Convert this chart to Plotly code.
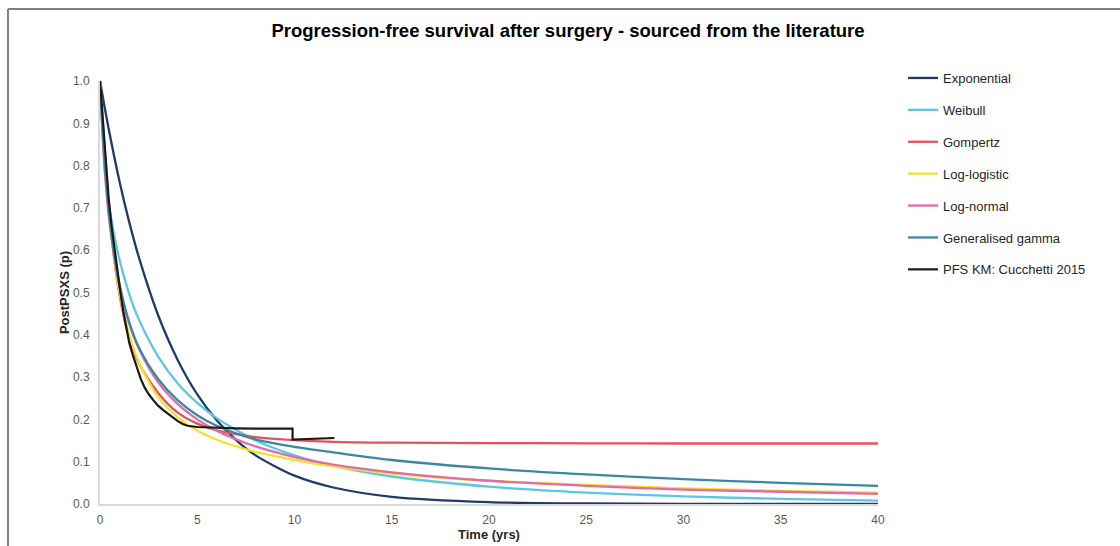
import plotly.graph_objects as go

# Fitted parametric survival curves: time (years) and survival probability
t_fit = [0, 0.25, 0.5, 1, 1.5, 2, 3, 4, 5, 6, 7, 8, 10, 12, 15, 20, 25, 30, 35, 40]

exponential = [1.0, 0.935, 0.874, 0.763, 0.667, 0.583, 0.445, 0.340, 0.259, 0.198, 0.151,
               0.115, 0.067, 0.039, 0.017, 0.0045, 0.0012, 0.0003, 0.0001, 0.0]
weibull = [1.0, 0.787, 0.696, 0.578, 0.497, 0.436, 0.348, 0.285, 0.239, 0.203, 0.175,
           0.150, 0.115, 0.090, 0.065, 0.041, 0.027, 0.018, 0.012, 0.008]
gompertz = [1.0, 0.83, 0.675, 0.495, 0.392, 0.333, 0.262, 0.216, 0.190, 0.174, 0.165,
            0.158, 0.151, 0.147, 0.145, 0.144, 0.1435, 0.143, 0.143, 0.143]
log_logistic = [1.0, 0.80, 0.67, 0.50, 0.40, 0.335, 0.252, 0.205, 0.174, 0.152, 0.136,
                0.123, 0.104, 0.089, 0.072, 0.055, 0.045, 0.037, 0.031, 0.027]
log_normal = [1.0, 0.787, 0.662, 0.515, 0.427, 0.367, 0.287, 0.236, 0.200, 0.173, 0.153,
              0.136, 0.111, 0.093, 0.075, 0.055, 0.043, 0.034, 0.029, 0.024]
gen_gamma = [1.0, 0.80, 0.67, 0.52, 0.43, 0.37, 0.295, 0.245, 0.210, 0.185, 0.167,
             0.153, 0.135, 0.122, 0.104, 0.084, 0.070, 0.059, 0.050, 0.043]

# Kaplan-Meier progression-free survival (Cucchetti 2015)
km_time = [0, 0.15, 0.3, 0.45, 0.6, 0.75, 0.9, 1.05, 1.2, 1.35, 1.5, 1.7, 1.9, 2.1, 2.3,
           2.5, 2.75, 3.0, 3.25, 3.5, 3.75, 4.0, 4.25, 4.5, 5.0, 6.0, 7.0, 8.0, 9.9, 9.9, 12.05]
km_surv = [1.0, 0.90, 0.80, 0.72, 0.655, 0.60, 0.55, 0.50, 0.455, 0.415, 0.382, 0.35, 0.32,
           0.295, 0.275, 0.26, 0.245, 0.232, 0.222, 0.213, 0.204, 0.196, 0.189, 0.185, 0.182,
           0.180, 0.179, 0.178, 0.178, 0.152, 0.156]

x_ticks = [0, 5, 10, 15, 20, 25, 30, 35, 40]
y_ticks = [0.0, 0.1, 0.2, 0.3, 0.4, 0.5, 0.6, 0.7, 0.8, 0.9, 1.0]

series = [
    ("Exponential", exponential, "#22396b"),
    ("Weibull", weibull, "#5cc6e3"),
    ("Gompertz", gompertz, "#e9505a"),
    ("Log-logistic", log_logistic, "#f3e229"),
    ("Log-normal", log_normal, "#e26aa9"),
    ("Generalised gamma", gen_gamma, "#3a89a0"),
]

FONT = "Arial, Liberation Sans, sans-serif"

fig = go.Figure()
for i, (name, vals, col) in enumerate(series):
    fig.add_trace(go.Scatter(
        x=t_fit, y=vals, name=name, mode="lines",
        line=dict(color=col, width=2.3, shape="spline", smoothing=0.8),
        legendgroup=str(i),
    ))
fig.add_trace(go.Scatter(
    x=km_time, y=km_surv, name="PFS KM: Cucchetti 2015", mode="lines",
    line=dict(color="#1a1a1a", width=2.2), legendgroup="km",
))

# plot area in pixels
L, R, T, B = 100, 878, 81, 504
W, H = 1120, 546


def px(x):
    return (x - L) / (R - L)


def py(y):
    return (B - y) / (B - T)


# outer frame (left and top edges)
fig.add_shape(type="line", xref="paper", yref="paper", x0=px(8), x1=px(8), y0=py(9), y1=py(560),
              line=dict(color="#808080", width=2))
fig.add_shape(type="line", xref="paper", yref="paper", x0=px(8), x1=px(1130), y0=py(9), y1=py(9),
              line=dict(color="#808080", width=2))

fig.update_layout(
    width=W, height=H,
    margin=dict(l=L, r=W - R, t=T, b=H - B, autoexpand=False),
    paper_bgcolor="white", plot_bgcolor="white",
    font=dict(family=FONT, color="#404040"),
    title=dict(text="<b>Progression-free survival after surgery - sourced from the literature</b>",
               x=568 / W, xanchor="center", y=1 - 31 / H, yanchor="middle",
               font=dict(size=18.5, color="#000000", family=FONT)),
    showlegend=True,
    legend=dict(xref="container", yref="container", x=903 / W, y=1 - 63 / H,
                xanchor="left", yanchor="top", font=dict(size=13, color="#262626"),
                tracegroupgap=12, bgcolor="rgba(0,0,0,0)"),
    xaxis=dict(range=[0, 40], tickvals=x_ticks, ticktext=[str(v) for v in x_ticks],
               showgrid=False, zeroline=False, showline=True, linecolor="#d9d9d9", linewidth=2,
               ticks="", ticklabelstandoff=4, tickfont=dict(size=12, color="#595959"),
               automargin=False,
               title=dict(text="<b>Time (yrs)</b>", font=dict(size=13, color="#262626"), standoff=2)),
    yaxis=dict(range=[0, 1.0], tickvals=y_ticks, ticktext=[f"{v:.1f}" for v in y_ticks],
               showgrid=False, zeroline=False, showline=True, linecolor="#d9d9d9", linewidth=2,
               ticks="", ticklabelstandoff=6, tickfont=dict(size=12, color="#595959"),
               automargin=False,
               title=dict(text="<b>PostPSXS (p)</b>", font=dict(size=13, color="#262626"), standoff=0)),
)

fig.write_html("out.html")
